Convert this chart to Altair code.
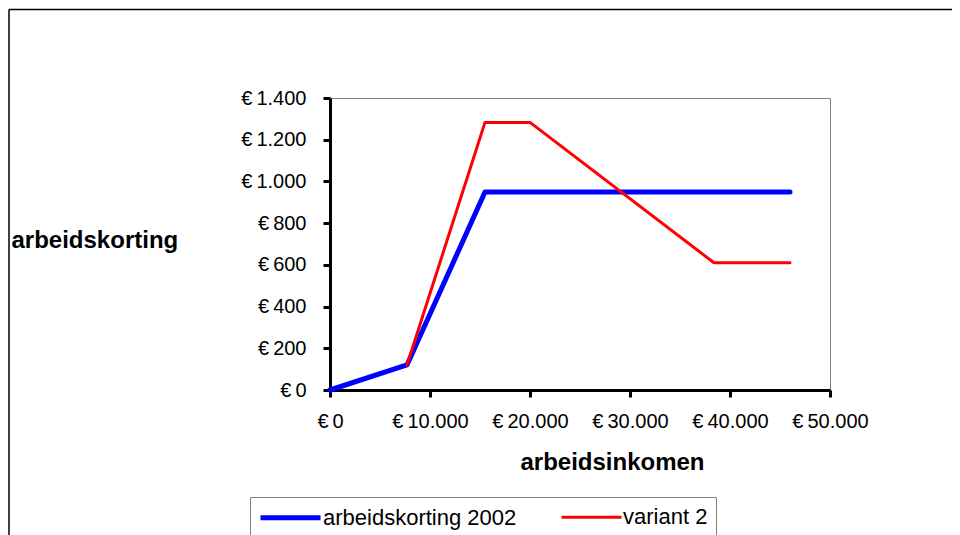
import altair as alt
import pandas as pd

# ---- data ----
series_names = ["arbeidskorting 2002", "variant 2"]
series_colors = ["#0000FF", "#FF0000"]

ak2002_income = [0, 7700, 15500, 46000]
ak2002_korting = [0, 120, 949, 949]

variant2_income = [7700, 15500, 20000, 38400, 46000]
variant2_korting = [120, 1283, 1283, 610, 610]

x_ticks = [0, 10000, 20000, 30000, 40000, 50000]
y_ticks = [0, 200, 400, 600, 800, 1000, 1200, 1400]

rows = []
for i, (x, y) in enumerate(zip(ak2002_income, ak2002_korting)):
    rows.append({"inkomen": x, "korting": y, "reeks": series_names[0], "volg": i})
for i, (x, y) in enumerate(zip(variant2_income, variant2_korting)):
    rows.append({"inkomen": x, "korting": y, "reeks": series_names[1], "volg": i})
df = pd.DataFrame(rows)

FONT = "Liberation Sans"
euro_expr = "'\u20ac\u2009' + replace(format(datum.value, ','), ',', '.')"

W, H = 500, 292
PAD = {"left": 322, "top": 90, "right": 122, "bottom": 145}

legend_def = alt.Legend(
    orient="none",
    legendX=-80,
    legendY=399,
    direction="horizontal",
    title=None,
    symbolType="M-1,0H5",
    symbolSize=400,
    labelFont=FONT,
    labelFontSize=22,
    labelColor="black",
    labelOffset=40,
    labelLimit=400,
    columnPadding=38,
    padding=8,
    strokeColor="#808080",
    fillColor="white",
)

lines = alt.Chart(df).mark_line(strokeCap="round", strokeJoin="round").encode(
    x=alt.X(
        "inkomen:Q",
        scale=alt.Scale(domain=[0, 50000], nice=False, zero=True),
        axis=alt.Axis(
            values=x_ticks,
            labelExpr=euro_expr,
            title="arbeidsinkomen",
            titleX=282,
            titleY=79,
            titleBaseline="alphabetic",
            titleAlign="center",
            labelPadding=14,
            labelFlush=False,
            labelOverlap=False,
        ),
    ),
    y=alt.Y(
        "korting:Q",
        scale=alt.Scale(domain=[0, 1400], nice=False),
        axis=alt.Axis(
            values=y_ticks,
            labelExpr=euro_expr,
            title="arbeidskorting",
            titleAngle=0,
            titleX=-319,
            titleY=149,
            titleAlign="left",
            titleBaseline="alphabetic",
            labelPadding=17,
            labelOverlap=False,
        ),
    ),
    color=alt.Color(
        "reeks:N",
        scale=alt.Scale(domain=series_names, range=series_colors),
        legend=legend_def,
    ),
    strokeWidth=alt.StrokeWidth(
        "reeks:N",
        scale=alt.Scale(domain=series_names, range=[5, 3]),
        legend=legend_def,
    ),
    order=alt.Order("volg:Q"),
)

frame_df = pd.DataFrame({"k": [0]})
frame_top = alt.Chart(frame_df).mark_rule(color="black", strokeWidth=1.5).encode(
    x=alt.value(-321), x2=alt.value(622), y=alt.value(-88.5)
)
frame_left = alt.Chart(frame_df).mark_rule(color="black", strokeWidth=1.5).encode(
    x=alt.value(-321), y=alt.value(-88.5), y2=alt.value(437)
)

chart = (
    alt.layer(frame_top, frame_left, lines)
    .properties(
        width=W,
        height=H,
        autosize=alt.AutoSizeParams(type="none"),
        padding=PAD,
        background="white",
    )
    .configure_view(stroke="#808080", strokeWidth=1)
    .configure_axis(
        grid=False,
        domainColor="black",
        domainWidth=3,
        tickColor="black",
        tickWidth=3,
        tickSize=7,
        labelFont=FONT,
        labelFontSize=20,
        labelColor="black",
        titleFont=FONT,
        titleFontSize=24,
        titleFontWeight="bold",
        titleColor="black",
    )
)

chart.save("out.html", embed_options={"renderer": "svg", "actions": False})
